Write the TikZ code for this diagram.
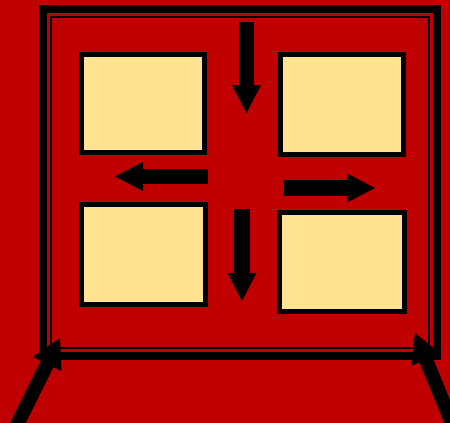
\documentclass[tikz,border=0pt]{standalone}
\usepackage{tikz}
\usetikzlibrary{arrows.meta,positioning}
\definecolor{bgred}{RGB}{192,0,0}
\definecolor{panel}{RGB}{255,226,146}

\begin{document}
\begin{tikzpicture}[x=1pt,y=-1pt,
    panelbox/.style={draw=black,fill=panel,line width=5pt,inner sep=0pt,outer sep=0pt},
    blockarrow/.style={draw=black,line width=15.5pt,-{Triangle[width=29pt,length=28pt,line width=0pt]}},
    legarrow/.style={draw=black,line width=14pt,-{Triangle[width=32pt,length=29pt,line width=0pt]}}]
    % background and page size
    \useasboundingbox (0,0) rectangle (450,423);
    \clip (0,0) rectangle (450,423);
    \fill[bgred] (0,0) rectangle (450,423);

    % frame: thick outer line, thin inner line
    \draw[line width=8pt] (43,9) rectangle (437,355.5);
    \draw[line width=2pt] (50.5,16.5) rectangle (429,347.5);

    % four panels
    \node[panelbox,minimum width=123pt,minimum height=98pt] (tl) at (143,103.5) {};
    \node[panelbox,minimum width=123pt,minimum height=100pt] (tr) at (342,104.5) {};
    \node[panelbox,minimum width=124pt,minimum height=100pt] (bl) at (143.5,254.5) {};
    \node[panelbox,minimum width=125pt,minimum height=99pt] (br) at (342,262) {};

    % arrow ends
    \coordinate (topA) at (246.5,22);   \coordinate (topB) at (246.5,113);
    \coordinate (leftA) at (208,176.5); \coordinate (leftB) at (115,176.5);
    \coordinate (rightA) at (284,188);  \coordinate (rightB) at (375,188);
    \coordinate (midA) at (242,209);    \coordinate (midB) at (242,301);
    \coordinate (legLA) at (12,435);    \coordinate (legLB) at (60,338);
    \coordinate (legRA) at (456,433);   \coordinate (legRB) at (415,333);

    % block arrows between the panels
    \draw[blockarrow] (topA) -- (topB);
    \draw[blockarrow] (leftA) -- (leftB);
    \draw[blockarrow] (rightA) -- (rightB);
    \draw[blockarrow] (midA) -- (midB);

    % legs at the bottom corners
    \draw[legarrow] (legLA) -- (legLB);
    \draw[legarrow] (legRA) -- (legRB);
\end{tikzpicture}
\end{document}
